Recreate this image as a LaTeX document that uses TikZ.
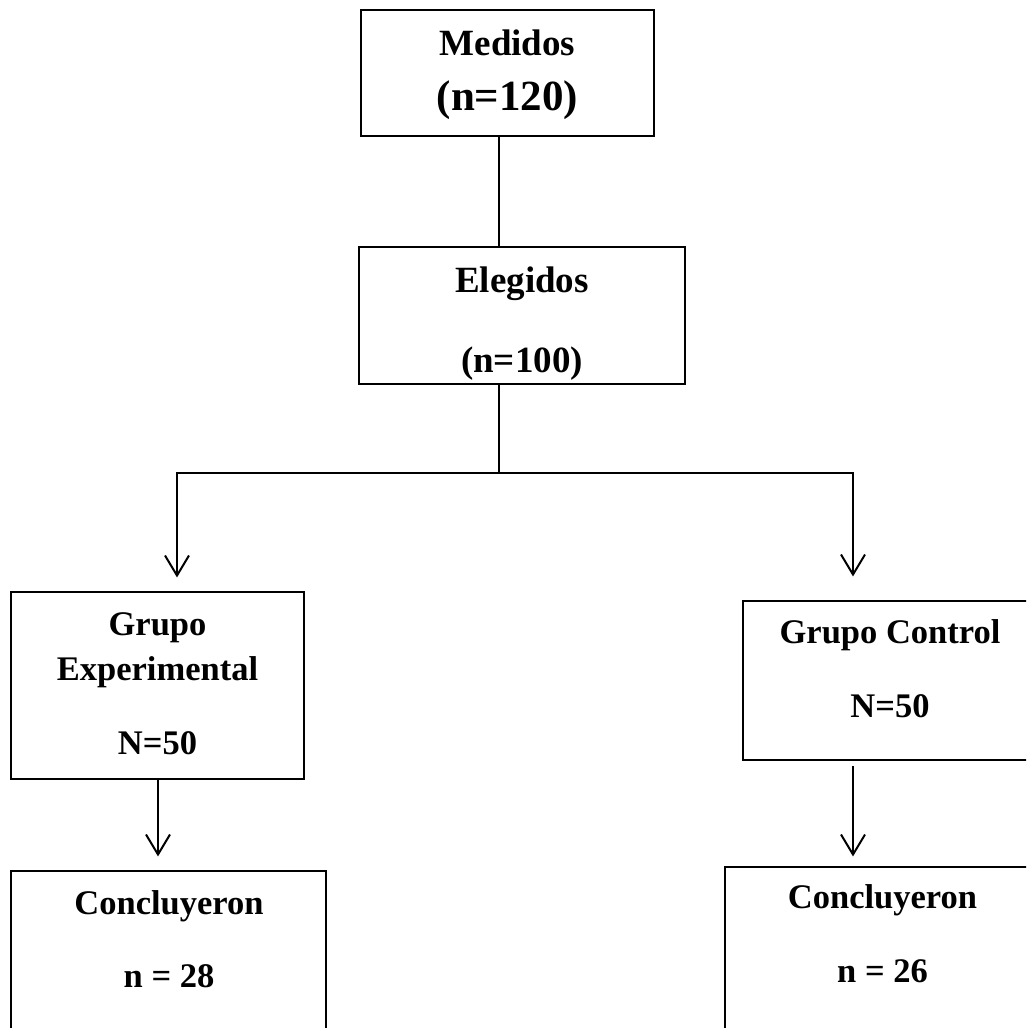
\documentclass[tikz,border=0pt]{standalone}
\usepackage{fontspec}
\setmainfont{Liberation Serif}
\usetikzlibrary{arrows.meta,calc}
\tikzset{
  box/.style={draw=black, line width=1.1pt, inner sep=0pt, fill=none},
  txt/.style={anchor=base, inner sep=0pt, font=\bfseries\fontsize{34.5}{40}\selectfont},
  conn/.style={draw=black, line width=2.2pt},
  arr/.style={conn, -{Straight Barb[length=20pt, width=24pt, line width=2pt]}}
}
\begin{document}
\begin{tikzpicture}[x=1pt,y=-1pt]
\useasboundingbox (0,0) rectangle (1026,1028);
\fill[white] (0,0) rectangle (1026,1028);
\clip (0,0) rectangle (1026,1028);
% boxes
\node[box, minimum width=293pt, minimum height=126pt] (med) at (507.5,73) {};
\node[box, minimum width=326pt, minimum height=137pt] (ele) at (522,315.5) {};
\node[box, minimum width=293pt, minimum height=187pt] (ge) at (157.5,685.5) {};
\node[box, minimum width=296pt, minimum height=159pt] (gc) at (891,680.5) {};
\node[box, minimum width=315pt, minimum height=180pt] (cl) at (168.5,961) {};
\node[box, minimum width=315pt, minimum height=184pt] (cr) at (882.5,959) {};
% texts
\node[txt, font=\bfseries\fontsize{37}{40}\selectfont] (t1) at (507.5,55) {Medidos};
\node[txt, font=\bfseries\fontsize{43}{48}\selectfont] (t2) at (507.5,110) {(n=120)};
\node[txt, font=\bfseries\fontsize{37}{40}\selectfont] (t3) at (522,292) {Elegidos};
\node[txt, font=\bfseries\fontsize{37}{40}\selectfont] (t4) at (522,372) {(n=100)};
\node[txt] (t5) at (157.5,635) {Grupo};
\node[txt] (t6) at (157.5,680) {Experimental};
\node[txt] (t7) at (157.5,754) {N=50};
\node[txt] (t8) at (890,643) {Grupo Control};
\node[txt] (t9) at (890,717) {N=50};
\node[txt] (t10) at (169,914) {Concluyeron};
\node[txt] (t11) at (169,987) {n = 28};
\node[txt] (t12) at (882.5,908) {Concluyeron};
\node[txt] (t13) at (882.5,982) {n = 26};
% connectors
\coordinate (j0) at (499,473);
\coordinate (jl) at (177,473);
\coordinate (jr) at (853,473);
\coordinate (xl) at (158,0);
\coordinate (xr) at (853,0);
\draw[conn] (med.south -| j0) -- (ele.north -| j0);
\draw[conn] (ele.south -| j0) -- (j0);
\draw[conn, line cap=rect] (jl) -- (jr);
\draw[arr, shorten >=14pt] (jl) -- (jl |- ge.north);
\draw[arr, shorten >=24pt] (jr) -- (jr |- gc.north);
\draw[arr, shorten >=14pt] (ge.south -| xl) -- (cl.north -| xl);
\draw[arr, shorten <=5pt, shorten >=10pt] (gc.south -| xr) -- (cr.north -| xr);
\end{tikzpicture}
\end{document}
